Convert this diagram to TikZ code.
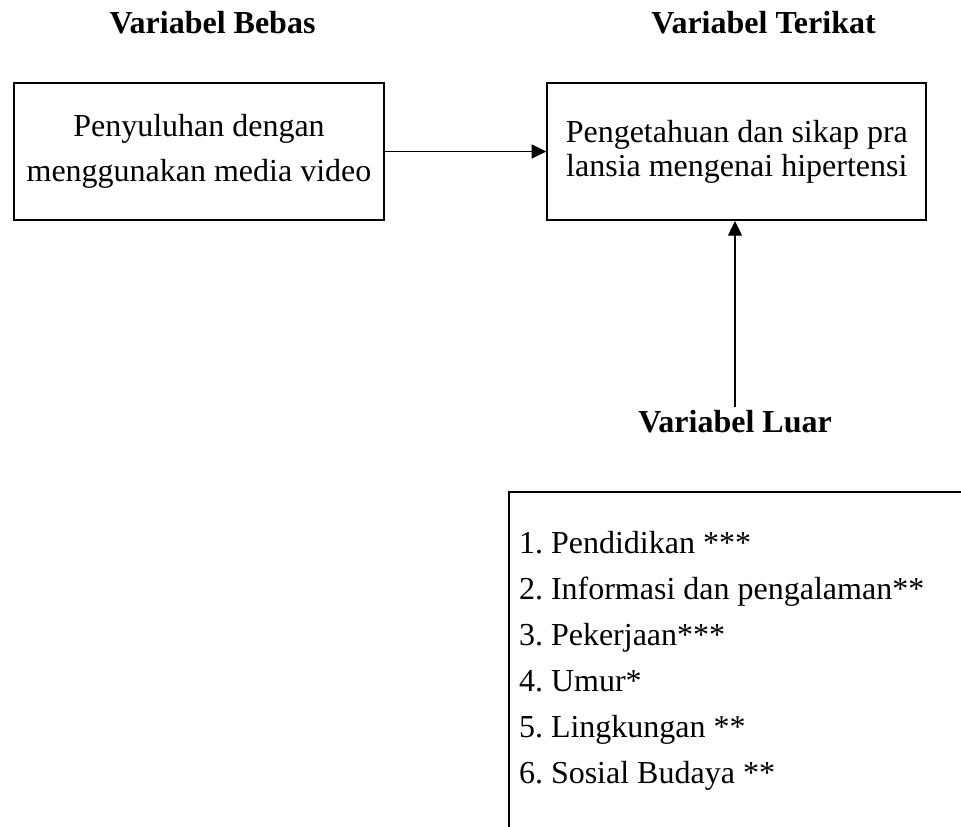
\documentclass[tikz,border=0pt]{standalone}
\usepackage{fontspec}
\setmainfont{Liberation Serif}
\usetikzlibrary{positioning,arrows.meta}

\begin{document}
\begin{tikzpicture}[x=0.75pt, y=-0.75pt, >={Triangle[length=11pt,width=10.5pt]},
    every node/.style={font=\fontsize{24}{29}\selectfont},
    kotak/.style={draw, line width=1.5pt, align=center, minimum height=102.75pt},
    judul/.style={font=\fontsize{24}{29}\selectfont\bfseries, anchor=base, inner sep=2pt}]
    \clip (0,0) rectangle (961,826);
    \node[kotak, minimum width=277.5pt, font=\fontsize{24}{33.75}\selectfont] (pen) at (199,151.5) {Penyuluhan dengan\\menggunakan media video};
    \node[kotak, minimum width=284.25pt, font=\fontsize{24}{25.5}\selectfont, right=121pt of pen] (pk) {Pengetahuan dan sikap pra\\lansia mengenai hipertensi};
    \node[judul] (bebas) at (212.5,33) {Variabel Bebas};
    \node[judul] (terikat) at (763.5,33) {Variabel Terikat};
    \node[judul] (luar) at (735,432) {Variabel Luar};
    \node[draw, line width=1.5pt, anchor=north west, align=flush left, text width=360pt, inner xsep=7.5pt, inner ysep=29.5pt, font=\fontsize{24}{34.5}\selectfont\frenchspacing] (faktor) at (508,491) {1. Pendidikan ***\\2. Informasi dan pengalaman**\\3. Pekerjaan***\\4. Umur*\\5. Lingkungan **\\6. Sosial Budaya **};
    \draw[->, line width=1pt] (pen) -- (pk);
    \draw[->, line width=1pt] (luar.north) -- (luar.north |- pk.south);
\end{tikzpicture}
\end{document}
